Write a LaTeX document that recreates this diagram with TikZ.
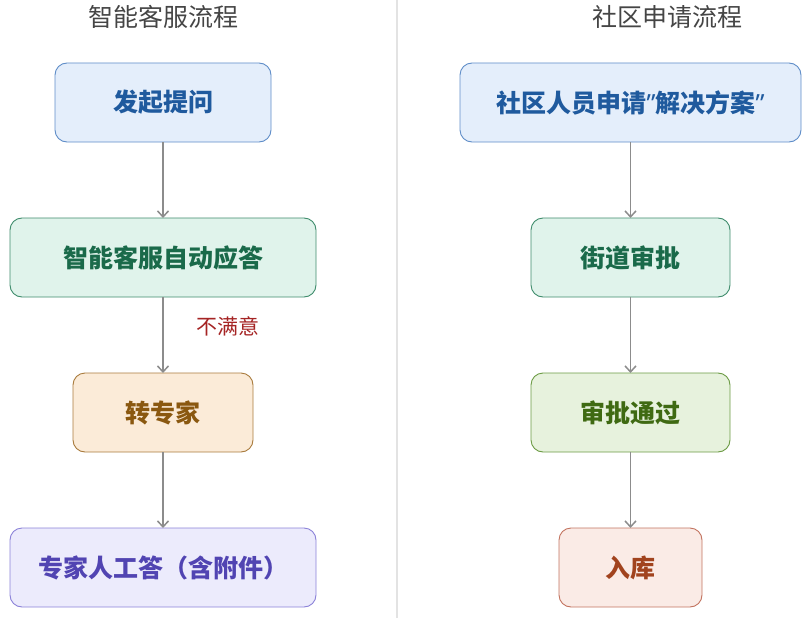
\documentclass[tikz,border=0pt]{standalone}
\usepackage{fontspec}
\setmainfont{Noto Sans CJK SC}
\newfontfamily\quotefont{Noto Sans}
\usepackage{tikz}
\usetikzlibrary{positioning,arrows.meta}

\definecolor{blueFill}{HTML}{E4EEFB}
\definecolor{blueLine}{HTML}{5F8DC8}
\definecolor{blueText}{HTML}{1F5A9E}
\definecolor{tealFill}{HTML}{E0F3EB}
\definecolor{tealLine}{HTML}{3F8C6C}
\definecolor{tealText}{HTML}{1A6A4A}
\definecolor{orangeFill}{HTML}{FBEBD8}
\definecolor{orangeLine}{HTML}{A97B3D}
\definecolor{orangeText}{HTML}{8A5810}
\definecolor{purpleFill}{HTML}{ECEBFC}
\definecolor{purpleLine}{HTML}{8B82D8}
\definecolor{purpleText}{HTML}{5144B2}
\definecolor{greenFill}{HTML}{E7F2DD}
\definecolor{greenLine}{HTML}{6C9B44}
\definecolor{greenText}{HTML}{3F6A12}
\definecolor{redFill}{HTML}{FAEBE6}
\definecolor{redLine}{HTML}{C2735F}
\definecolor{redText}{HTML}{A1431E}
\definecolor{arrowGray}{HTML}{8C8C8C}
\definecolor{titleGray}{HTML}{454545}
\definecolor{labelRed}{HTML}{A52424}

\begin{document}
\begin{tikzpicture}
      [x=1pt, y=-1pt, node distance=76pt,
      % STYLES
      % The title style is used for the heading of each column
      title/.style={font=\fontsize{25}{29}\selectfont, text=titleGray, inner sep=0pt},
      % The stage style is the rounded box of one step
      stage/.style={rectangle, rounded corners=12pt, draw, line width=0.9pt, outer sep=0pt, minimum height=79pt, inner sep=0pt, font=\fontsize{25}{29}\selectfont\bfseries},
      blueStage/.style={stage, fill=blueFill, draw=blueLine, text=blueText},
      tealStage/.style={stage, fill=tealFill, draw=tealLine, text=tealText},
      orangeStage/.style={stage, fill=orangeFill, draw=orangeLine, text=orangeText},
      purpleStage/.style={stage, fill=purpleFill, draw=purpleLine, text=purpleText},
      greenStage/.style={stage, fill=greenFill, draw=greenLine, text=greenText},
      redStage/.style={stage, fill=redFill, draw=redLine, text=redText},
      % The link style is used for the arrows between stages
      link/.style={-{Straight Barb[length=6pt,width=11pt]}, draw=arrowGray, line width=1.5pt}]

      \useasboundingbox (0,0) rectangle (806,618);
      \draw[black!11, line width=1.2pt] (397,0) -- (397,618);

      % Titles
      \node [title] (titleService) at (163,17) {智能客服流程};
      \node [title] (titleCommunity) at (667,17) {社区申请流程};

      % Draw stages of the service flow
      \node [blueStage, minimum width=216pt] (askQuestion) at (163,102.5) {发起提问};
      \node [tealStage, minimum width=306pt, below=of askQuestion] (autoAnswer) {智能客服自动应答};
      \node [orangeStage, minimum width=180pt, below=of autoAnswer] (toExpert) {转专家};
      \node [purpleStage, minimum width=306pt, below=of toExpert] (expertAnswer) {专家人工答（含附件）};

      % Draw stages of the community flow
      \node [blueStage, minimum width=341pt] (applySolution) at (630.5,102.5) {社区人员申请{\quotefont\bfseries ”}解决方案{\quotefont\bfseries ”}};
      \node [tealStage, minimum width=199pt, below=of applySolution] (streetReview) {街道审批};
      \node [greenStage, minimum width=199pt, below=of streetReview] (approved) {审批通过};
      \node [redStage, minimum width=143pt, below=of approved] (stored) {入库};

      %%%%%%%%%%%%%%%
      % Condition label
      \node [font=\fontsize{21}{24}\selectfont, text=labelRed, inner sep=0pt] (notSatisfied) at (228,326) {不满意};

      %%%%%%%%%%%%%%%%

      % Draw the links between stages
      \path[link]
        (askQuestion) edge (autoAnswer)
        (autoAnswer) edge (toExpert)
        (toExpert) edge (expertAnswer)
        (applySolution) edge (streetReview)
        (streetReview) edge (approved)
        (approved) edge (stored);

\end{tikzpicture}
\end{document}
